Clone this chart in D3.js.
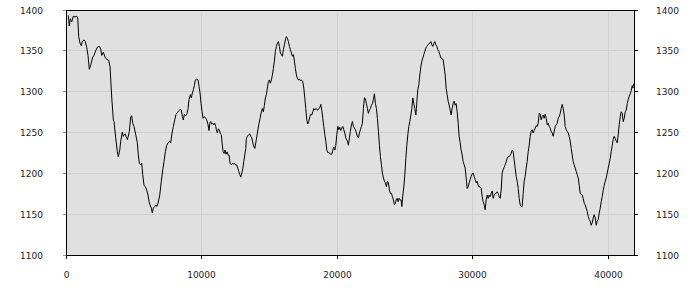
<!DOCTYPE html>
<html>
<head>
<meta charset="utf-8">
<script src="https://cdn.jsdelivr.net/npm/d3@7"></script>
<style>
  body { margin: 0; background: #fff; }
  svg text { font-family: "DejaVu Sans", sans-serif; font-size: 9px; fill: #222; }
</style>
</head>
<body>
<svg id="chart"></svg>
<script>
var width = 700, height = 300;

// tick labels
var xTicks = [0, 10000, 20000, 30000, 40000];
var yTicks = [1100, 1150, 1200, 1250, 1300, 1350, 1400];

// readings: [position, value]
var readings = [
  [133,1394],[207,1381],[281,1390],[384,1386],[502,1393],[628,1392],[753,1393],[827,1391],
  [901,1368],[997,1360],[1093,1357],[1167,1362],[1292,1364],[1388,1362],[1491,1355],[1587,1345],
  [1683,1328],[1787,1333],[1934,1343],[2030,1345],[2156,1351],[2274,1355],[2422,1356],[2525,1353],
  [2599,1345],[2717,1349],[2843,1343],[2968,1340],[3116,1339],[3212,1331],[3337,1294],[3455,1266],
  [3507,1264],[3632,1244],[3751,1227],[3824,1221],[3928,1229],[4002,1240],[4120,1251],[4194,1246],
  [4319,1249],[4393,1246],[4489,1242],[4563,1246],[4637,1252],[4740,1270],[4814,1271],[4888,1262],
  [4984,1258],[5109,1248],[5227,1238],[5301,1223],[5375,1213],[5478,1211],[5552,1213],[5626,1199],
  [5722,1186],[5818,1184],[5921,1180],[6017,1174],[6091,1166],[6165,1162],[6261,1158],[6335,1152],
  [6409,1158],[6512,1160],[6586,1162],[6660,1160],[6755,1164],[6881,1174],[6999,1191],[7103,1205],
  [7198,1215],[7294,1227],[7398,1235],[7494,1238],[7619,1240],[7693,1238],[7789,1250],[7885,1258],
  [7989,1266],[8085,1273],[8180,1275],[8284,1277],[8380,1279],[8476,1278],[8550,1270],[8623,1266],
  [8697,1273],[8801,1271],[8896,1274],[8970,1280],[9044,1291],[9140,1297],[9214,1293],[9288,1299],
  [9362,1303],[9436,1308],[9510,1315],[9613,1316],[9709,1315],[9783,1307],[9856,1299],[9930,1286],
  [10004,1276],[10078,1268],[10152,1270],[10248,1269],[10351,1266],[10447,1260],[10521,1253],[10573,1262],
  [10646,1264],[10720,1261],[10794,1262],[10868,1260],[10942,1262],[11016,1258],[11060,1254],[11134,1250],
  [11207,1255],[11281,1254],[11355,1249],[11429,1248],[11481,1238],[11555,1227],[11628,1225],[11702,1229],
  [11776,1224],[11850,1227],[11924,1223],[11998,1223],[12071,1213],[12167,1211],[12241,1213],[12315,1212],
  [12389,1213],[12463,1211],[12566,1211],[12640,1207],[12714,1203],[12788,1199],[12862,1196],[12935,1201],
  [13009,1206],[13083,1215],[13157,1223],[13231,1231],[13275,1243],[13349,1246],[13452,1248],[13526,1249],
  [13600,1246],[13673,1244],[13792,1235],[13895,1231],[13991,1240],[14087,1250],[14190,1260],[14286,1268],
  [14382,1276],[14456,1280],[14530,1276],[14604,1284],[14678,1293],[14752,1297],[14825,1305],[14899,1313],
  [14973,1315],[15047,1311],[15121,1315],[15195,1321],[15268,1329],[15342,1338],[15416,1350],[15490,1356],
  [15564,1360],[15638,1362],[15712,1356],[15785,1348],[15859,1346],[15933,1344],[16007,1352],[16081,1358],
  [16154,1364],[16228,1368],[16302,1366],[16376,1362],[16450,1356],[16524,1352],[16597,1348],[16671,1344],
  [16745,1346],[16819,1338],[16893,1329],[16966,1321],[17040,1317],[17114,1315],[17188,1316],[17262,1314],
  [17336,1315],[17439,1313],[17513,1305],[17586,1293],[17660,1280],[17734,1266],[17808,1261],[17882,1264],
  [17956,1270],[18029,1273],[18103,1272],[18177,1276],[18251,1280],[18325,1278],[18399,1280],[18472,1279],
  [18546,1278],[18620,1280],[18694,1281],[18768,1285],[18842,1278],[18915,1268],[18989,1258],[19063,1248],
  [19137,1240],[19211,1229],[19285,1226],[19358,1226],[19432,1225],[19506,1224],[19580,1224],[19654,1229],
  [19728,1233],[19801,1229],[19875,1235],[19949,1248],[20023,1258],[20097,1254],[20171,1257],[20244,1253],
  [20318,1256],[20392,1258],[20466,1254],[20540,1250],[20614,1244],[20732,1240],[20806,1235],[20879,1244],
  [20953,1252],[21027,1260],[21101,1264],[21175,1258],[21249,1256],[21322,1254],[21396,1250],[21470,1246],
  [21544,1244],[21618,1250],[21692,1254],[21765,1258],[21839,1262],[21913,1280],[21987,1293],[22061,1292],
  [22135,1286],[22208,1280],[22282,1274],[22356,1278],[22430,1280],[22504,1284],[22578,1286],[22651,1291],
  [22725,1298],[22799,1286],[22873,1280],[22947,1268],[23021,1252],[23094,1235],[23168,1221],[23242,1211],
  [23316,1201],[23390,1195],[23464,1191],[23537,1189],[23611,1184],[23685,1191],[23759,1189],[23833,1180],
  [23907,1176],[23980,1176],[24054,1172],[24128,1168],[24202,1162],[24276,1164],[24327,1168],[24401,1170],
  [24475,1166],[24549,1170],[24623,1168],[24697,1168],[24748,1160],[24822,1174],[24896,1184],[24970,1199],
  [25044,1219],[25117,1235],[25191,1248],[25265,1258],[25339,1264],[25413,1272],[25487,1280],[25560,1293],
  [25634,1286],[25708,1280],[25782,1272],[25826,1280],[25878,1293],[25929,1303],[26003,1309],[26077,1321],
  [26151,1331],[26225,1338],[26299,1342],[26372,1346],[26446,1350],[26520,1354],[26594,1356],[26668,1358],
  [26742,1359],[26815,1360],[26889,1362],[26963,1358],[27037,1356],[27111,1360],[27185,1362],[27258,1358],
  [27332,1356],[27406,1352],[27480,1350],[27554,1346],[27628,1342],[27798,1340],[27872,1331],[27946,1321],
  [28020,1305],[28093,1297],[28167,1289],[28241,1284],[28315,1278],[28389,1272],[28463,1280],[28536,1286],
  [28610,1289],[28684,1284],[28758,1286],[28832,1276],[28906,1262],[28979,1246],[29053,1238],[29127,1229],
  [29201,1223],[29275,1215],[29349,1211],[29422,1207],[29496,1195],[29570,1182],[29644,1184],[29718,1189],
  [29792,1193],[29865,1197],[29939,1200],[30013,1201],[30087,1197],[30161,1193],[30235,1189],[30308,1191],
  [30382,1186],[30456,1184],[30530,1184],[30604,1182],[30678,1172],[30751,1166],[30825,1162],[30899,1156],
  [30973,1168],[31047,1174],[31121,1170],[31194,1174],[31268,1172],[31342,1176],[31416,1179],[31490,1170],
  [31564,1174],[31637,1176],[31711,1176],[31785,1178],[31859,1176],[31933,1172],[32007,1170],[32080,1180],
  [32154,1201],[32228,1205],[32302,1208],[32376,1211],[32450,1215],[32523,1219],[32597,1221],[32671,1221],
  [32745,1223],[32819,1225],[32893,1229],[32966,1227],[33040,1217],[33114,1207],[33188,1197],[33262,1191],
  [33336,1182],[33409,1170],[33483,1162],[33557,1160],[33631,1160],[33705,1176],[33779,1191],[33852,1197],
  [33926,1207],[34000,1215],[34074,1227],[34148,1235],[34222,1246],[34295,1252],[34369,1254],[34443,1250],
  [34517,1253],[34591,1256],[34665,1259],[34738,1258],[34812,1262],[34886,1274],[34960,1273],[35034,1266],
  [35108,1270],[35181,1272],[35255,1268],[35329,1273],[35403,1268],[35477,1260],[35551,1262],[35624,1258],
  [35698,1256],[35772,1252],[35846,1250],[35920,1246],[35994,1252],[36067,1258],[36141,1260],[36215,1262],
  [36289,1268],[36363,1270],[36437,1274],[36510,1280],[36584,1285],[36658,1280],[36732,1272],[36806,1258],
  [36880,1254],[36953,1252],[37027,1250],[37101,1246],[37175,1240],[37249,1231],[37323,1223],[37396,1215],
  [37470,1211],[37544,1207],[37618,1203],[37692,1199],[37766,1195],[37839,1186],[37913,1176],[37987,1175],
  [38061,1174],[38135,1170],[38209,1164],[38282,1162],[38356,1158],[38430,1154],[38504,1148],[38578,1144],
  [38652,1142],[38725,1137],[38799,1140],[38873,1146],[38947,1150],[39021,1146],[39095,1137],[39168,1142],
  [39242,1144],[39316,1152],[39390,1158],[39464,1166],[39538,1172],[39611,1180],[39685,1186],[39759,1191],
  [39833,1195],[39907,1201],[39981,1207],[40054,1213],[40128,1219],[40202,1227],[40276,1235],[40350,1242],
  [40424,1246],[40497,1243],[40571,1240],[40645,1238],[40719,1248],[40793,1260],[40867,1270],[40940,1276],
  [41014,1274],[41088,1264],[41162,1268],[41236,1276],[41310,1278],[41383,1286],[41457,1291],[41531,1295],
  [41605,1298],[41679,1302],[41753,1308],[41790,1305],[41860,1310],[41910,1311]
];

var xMax = 41920;
var plotLeft = 66, plotRight = 634, plotTop = 10, plotBottom = 255;

var xRange = d3.scaleLinear().domain([0, xMax]).range([plotLeft, plotRight]);
var yRange = d3.scaleLinear().domain([1100, 1400]).range([plotBottom, plotTop]);

// snap to pixel centres so 1px lines stay crisp
function px(v) { return Math.round(xRange(v)) + 0.5; }
function py(v) { return Math.floor(yRange(v)) + 0.5; }

var svg = d3.select("#chart")
    .attr("width", width)
    .attr("height", height);

// plot background
svg.append("rect")
    .attr("x", plotLeft)
    .attr("y", plotTop)
    .attr("width", plotRight - plotLeft + 1)
    .attr("height", plotBottom - plotTop + 1)
    .style("fill", "#e0e0e0");

// grid
var gGrid = svg.append("g")
    .style("stroke", "#d0d0d0")
    .style("stroke-width", 1)
    .style("shape-rendering", "crispEdges");

gGrid.selectAll(".gx").data(xTicks.slice(1)).enter().append("line")
    .attr("x1", px).attr("x2", px)
    .attr("y1", plotTop).attr("y2", plotBottom + 1);

gGrid.selectAll(".gy").data(yTicks.slice(1, -1)).enter().append("line")
    .attr("x1", plotLeft).attr("x2", plotRight + 1)
    .attr("y1", py).attr("y2", py);

// series
svg.append("clipPath").attr("id", "plot-clip")
    .append("rect")
    .attr("x", plotLeft + 1).attr("y", plotTop + 1)
    .attr("width", plotRight - plotLeft - 1).attr("height", plotBottom - plotTop - 1);

var line = d3.line()
    .x(function(d) { return xRange(d[0]) + 0.5; })
    .y(function(d) { return yRange(d[1]) + 0.5; });

svg.append("path")
    .datum(readings)
    .attr("clip-path", "url(#plot-clip)")
    .attr("d", line)
    .style("fill", "none")
    .style("stroke", "#000")
    .style("stroke-width", 1);

// frame
var gFrame = svg.append("g")
    .style("stroke", "#000")
    .style("stroke-width", 1)
    .style("shape-rendering", "crispEdges");

gFrame.append("rect")
    .attr("x", plotLeft + 0.5).attr("y", plotTop + 0.5)
    .attr("width", plotRight - plotLeft).attr("height", plotBottom - plotTop)
    .style("fill", "none");

// tick marks
gFrame.selectAll(".tx").data(xTicks).enter().append("line")
    .attr("x1", px).attr("x2", px)
    .attr("y1", plotBottom + 1).attr("y2", plotBottom + 4);

gFrame.selectAll(".tyl").data(yTicks).enter().append("line")
    .attr("x1", plotLeft - 3).attr("x2", plotLeft)
    .attr("y1", py).attr("y2", py)
    .style("stroke", "#999");

gFrame.selectAll(".tyr").data(yTicks).enter().append("line")
    .attr("x1", plotRight + 1).attr("x2", plotRight + 4)
    .attr("y1", py).attr("y2", py);

// labels
svg.selectAll(".lx").data(xTicks).enter().append("text")
    .attr("x", function(d) { return px(d); })
    .attr("y", 277.5)
    .attr("text-anchor", "middle")
    .text(function(d) { return d; });

svg.selectAll(".lyl").data(yTicks).enter().append("text")
    .attr("x", 43)
    .attr("y", function(d) { return py(d) + 3.5; })
    .attr("text-anchor", "end")
    .text(function(d) { return d; });

svg.selectAll(".lyr").data(yTicks).enter().append("text")
    .attr("x", 656)
    .attr("y", function(d) { return py(d) + 3.5; })
    .attr("text-anchor", "start")
    .text(function(d) { return d; });
</script>
</body>
</html>
